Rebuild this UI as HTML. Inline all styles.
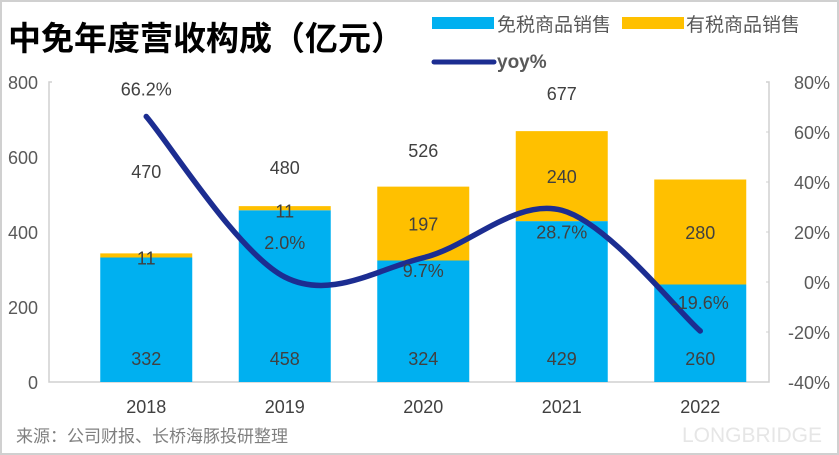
<!DOCTYPE html>
<html><head><meta charset="utf-8"><style>
html,body{margin:0;padding:0;background:#fff}
svg{display:block;font-family:"Liberation Sans","Noto Sans CJK SC",sans-serif}
</style></head><body>
<svg id="chart" width="839" height="455" viewBox="0 0 839 455">
<rect x="1" y="1" width="837" height="453" fill="#fff" stroke="#d0d0d0" stroke-width="2"/>
<text x="8" y="50" font-size="33" font-weight="bold" fill="#000">中免年度营收构成（亿元）</text>
<g>
<g><rect x="432" y="17" width="62" height="12" fill="#00b0f0"/><text x="497" y="31" font-size="19" fill="#595959">免税商品销售</text></g>
<g><rect x="622" y="17" width="62" height="12" fill="#ffc000"/><text x="686" y="31" font-size="19" fill="#595959">有税商品销售</text></g>
<g><line x1="434" y1="62" x2="494" y2="62" stroke="#1c2d91" stroke-width="5" stroke-linecap="round"/><text x="497" y="68" font-size="19" font-weight="bold" fill="#595959">yoy%</text></g>
</g>
<text x="16" y="442" font-size="17" fill="#7f7f7f">来源：公司财报、长桥海豚投研整理</text>
<text x="682" y="442" font-size="21" fill="#e6e6e6">LONGBRIDGE</text>
<g id="plot"></g>
</svg>
<script>
const categories=["2018","2019","2020","2021","2022"];
const dutyFree=[332,458,324,429,260];
const taxed=[11,11,197,240,280];
const totals=[470,480,526,677,540];
const totalLabels=["470","480","526","677",""];
const yoy=[66.2,2.0,9.7,28.7,-19.6];
const leftTicks=[0,200,400,600,800];
const rightTicks=[-40,-20,0,20,40,60,80];

const NS="http://www.w3.org/2000/svg";
const g=document.getElementById('plot');
const X0=77,CW=138.5,BW=92;
const xC=i=>X0+CW*(i+0.5);
const yL=v=>382-v*0.375;
const yR=v=>382-(v+40)*2.5;
function mk(tag,attrs,text){const e=document.createElementNS(NS,tag);for(const k in attrs)e.setAttribute(k,attrs[k]);if(text!==undefined)e.textContent=text;g.appendChild(e);return e;}

let ax=mk('path',{d:'M52 82 L49 82 L49 382 L769 382 L769 82 L766 82',fill:'none',stroke:'#d0d0d0','stroke-width':1.5});


leftTicks.forEach(v=>{
 const t=mk('text',{x:38,y:yL(v)+7,'font-size':18,fill:'#595959','text-anchor':'end'},String(v));
 
 
});
rightTicks.forEach(v=>{
 const t=mk('text',{x:830,y:yR(v)+7,'font-size':18,fill:'#595959','text-anchor':'end'},v+'%');
 
 
 const l=mk('line',{x1:766,x2:769,y1:yR(v),y2:yR(v),stroke:'#d0d0d0'});
 
 
});
categories.forEach((c,i)=>{
 const cx=xC(i);
 const b1=mk('rect',{x:cx-BW/2,y:yL(dutyFree[i]),width:BW,height:yL(0)-yL(dutyFree[i]),fill:'#00b0f0'});
 
 
 const top=dutyFree[i]+taxed[i];
 const b2=mk('rect',{x:cx-BW/2,y:yL(top),width:BW,height:yL(dutyFree[i])-yL(top),fill:'#ffc000'});
 
 
 const t1=mk('text',{x:cx,y:yL(0)-17,'font-size':18,fill:'#404040','text-anchor':'middle'},String(dutyFree[i]));
 
 
 const ty=taxed[i]<50?yL(dutyFree[i])+7:(yL(top)+yL(dutyFree[i]))/2+7;
 const t2=mk('text',{x:cx,y:ty,'font-size':18,fill:'#404040','text-anchor':'middle'},String(taxed[i]));
 
 
 if(totalLabels[i]){
  const t3=mk('text',{x:cx,y:yL(totals[i])-35+7,'font-size':18,fill:'#404040','text-anchor':'middle'},totalLabels[i]);
  
  
 }
 const t4=mk('text',{x:cx,y:413,'font-size':18,fill:'#404040','text-anchor':'middle'},c);
 
 
});
const pts=yoy.map((v,i)=>[xC(i),yR(v)]);
let d='M'+pts[0][0]+' '+pts[0][1];
for(let i=0;i<pts.length-1;i++){
 const p0=pts[i-1]||pts[i],p1=pts[i],p2=pts[i+1],p3=pts[i+2]||p2;
 const c1=[p1[0]+(p2[0]-p0[0])/6,p1[1]+(p2[1]-p0[1])/6];
 const c2=[p2[0]-(p3[0]-p1[0])/6,p2[1]-(p3[1]-p1[1])/6];
 d+=` C${c1[0]} ${c1[1]} ${c2[0]} ${c2[1]} ${p2[0]} ${p2[1]}`;
}
const ln=mk('path',{d:d,fill:'none',stroke:'#1c2d91','stroke-width':5.5,'stroke-linecap':'round'});


const labelOffsets=[-28,-35,12,21,-29];
yoy.forEach((v,i)=>{
 const t=mk('text',{x:xC(i),y:yR(v)+labelOffsets[i]+7,'font-size':18,fill:'#404040','text-anchor':'middle'},v.toFixed(1)+'%');
 
 
});
</script>
</body></html>
